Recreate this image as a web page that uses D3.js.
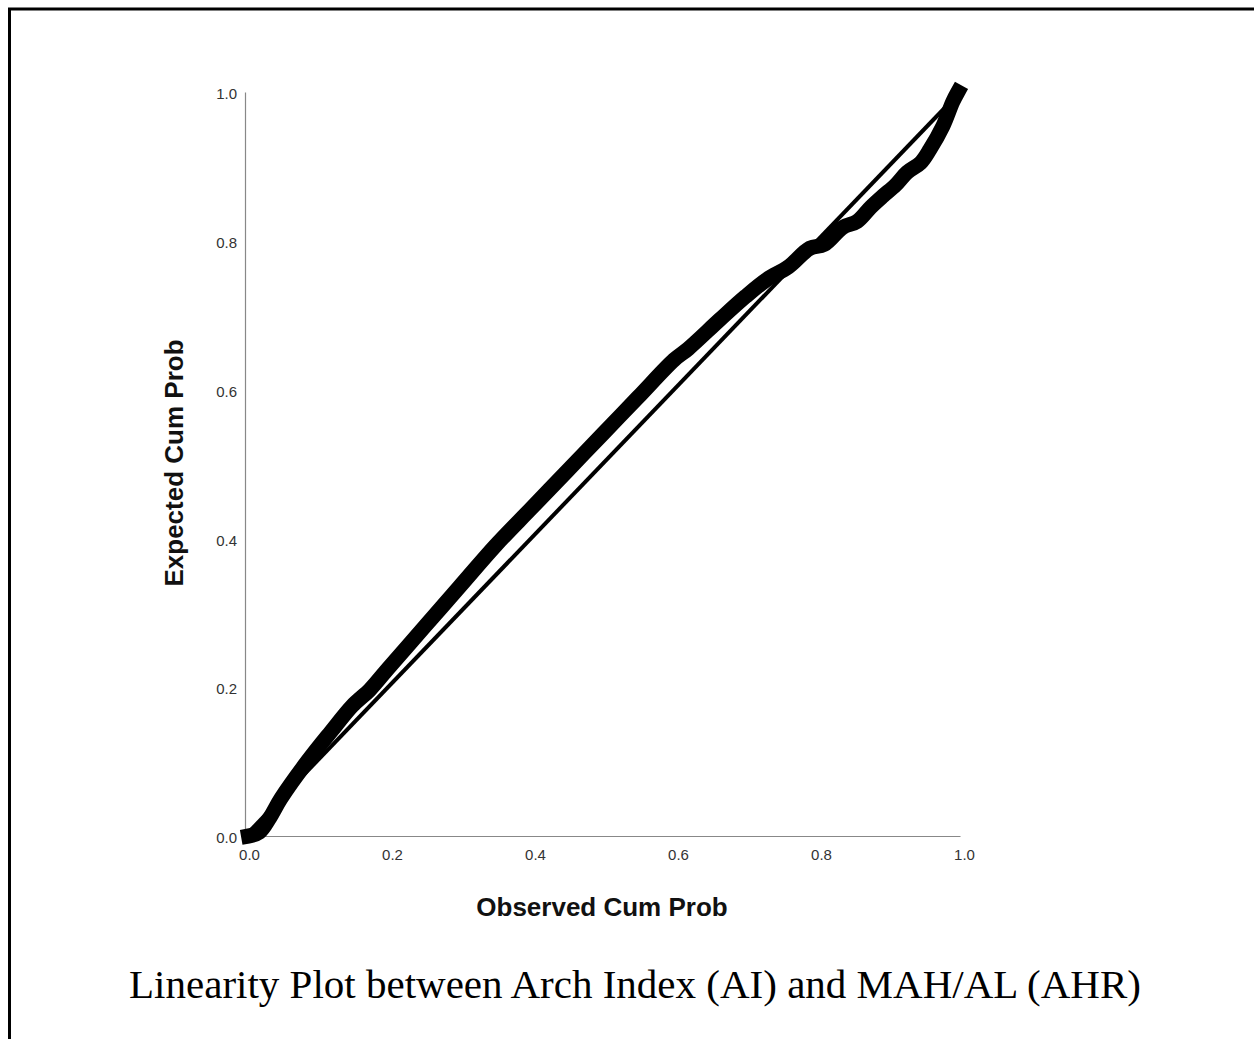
<!DOCTYPE html>
<html>
<head>
<meta charset="utf-8">
<script src="https://cdn.jsdelivr.net/npm/d3@7"></script>
<style>
  body { margin: 0; background: #fff; }
  svg { display: block; }
</style>
</head>
<body>
<div id="chart"></div>
<script>
// observed vs expected cumulative probability
var observed = [0.005, 0.02, 0.035, 0.05, 0.087, 0.12, 0.15, 0.175, 0.2, 0.25, 0.3, 0.35, 0.4, 0.45,
                0.5, 0.55, 0.6, 0.62, 0.664, 0.7, 0.73, 0.76, 0.79, 0.81, 0.836, 0.856, 0.875,
                0.892, 0.91, 0.926, 0.945, 0.958, 0.976, 0.99, 0.997];
var expected = [0.0, 0.005, 0.025, 0.05, 0.10, 0.14, 0.175, 0.197, 0.225, 0.28, 0.335, 0.39, 0.44, 0.49,
                0.54, 0.59, 0.64, 0.655, 0.694, 0.725, 0.748, 0.765, 0.79, 0.795, 0.818, 0.826, 0.845,
                0.860, 0.875, 0.892, 0.905, 0.923, 0.954, 0.987, 1.0];
var refLine = [0, 1];
var tickValues = [0, 0.2, 0.4, 0.6, 0.8, 1.0];

var W = 1254, H = 1039;

var svg = d3.select("#chart").append("svg")
    .attr("width", W)
    .attr("height", H);

// frame (top and left edges only)
svg.append("path")
    .attr("d", "M9.5,1039 L9.5,9 L1254,9")
    .attr("fill", "none")
    .attr("stroke", "#000")
    .attr("stroke-width", 3);

var x = d3.scaleLinear().domain([0, 1]).range([245, 960]);
var y = d3.scaleLinear().domain([0, 1]).range([836, 92]);

// axes
var xAxis = svg.append("g")
    .attr("transform", "translate(0,836)")
    .call(d3.axisBottom(x).tickValues(tickValues).tickFormat(d3.format(".1f")).tickSize(0).tickPadding(13));
var yAxis = svg.append("g")
    .attr("transform", "translate(245,0)")
    .call(d3.axisLeft(y).tickValues(tickValues).tickFormat(d3.format(".1f")).tickSize(0).tickPadding(8));

[xAxis, yAxis].forEach(function(g) {
  g.select(".domain").attr("stroke", "#888").attr("stroke-width", 1.2);
  g.selectAll("text")
      .attr("font-family", "Arial, 'Liberation Sans', sans-serif")
      .attr("font-size", 15)
      .attr("fill", "#333");
});
xAxis.selectAll("text").attr("dx", 4);
yAxis.selectAll("text").attr("dy", "0.45em");

// diagonal reference line
var line = d3.line()
    .x(function(d) { return x(d[0]); })
    .y(function(d) { return y(d[1]); });

svg.append("path")
    .datum(refLine.map(function(v) { return [v, v]; }))
    .attr("fill", "none")
    .attr("stroke", "#000")
    .attr("stroke-width", 4)
    .attr("d", line);

// observed points, drawn as a thick curve
var pts = observed.map(function(v, i) { return [v, expected[i]]; });
svg.append("path")
    .datum(pts)
    .attr("fill", "none")
    .attr("stroke", "#000")
    .attr("stroke-width", 15)
    .attr("stroke-linejoin", "round")
    .attr("stroke-linecap", "square")
    .attr("d", line.curve(d3.curveCatmullRom));

// axis titles
svg.append("text")
    .attr("x", 602)
    .attr("y", 916)
    .attr("text-anchor", "middle")
    .attr("font-family", "Arial, 'Liberation Sans', sans-serif")
    .attr("font-weight", "bold")
    .attr("font-size", 26)
    .attr("fill", "#111")
    .text("Observed Cum Prob");

svg.append("text")
    .attr("transform", "translate(183,463) rotate(-90)")
    .attr("text-anchor", "middle")
    .attr("font-family", "Arial, 'Liberation Sans', sans-serif")
    .attr("font-weight", "bold")
    .attr("font-size", 26)
    .attr("fill", "#111")
    .text("Expected Cum Prob");

// caption
svg.append("text")
    .attr("x", 635)
    .attr("y", 998)
    .attr("text-anchor", "middle")
    .attr("font-family", "'Times New Roman', 'Liberation Serif', serif")
    .attr("font-size", 41)
    .attr("fill", "#000")
    .text("Linearity Plot between Arch Index (AI) and MAH/AL (AHR)");
</script>
</body>
</html>
